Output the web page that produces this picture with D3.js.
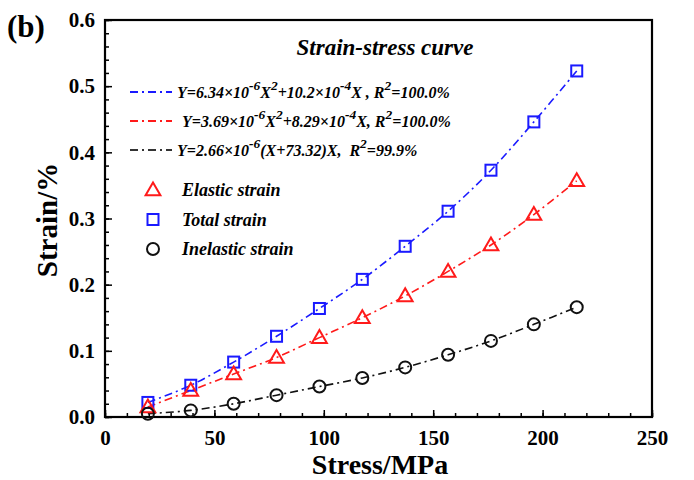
<!DOCTYPE html>
<html lang="en">
<head>
<meta charset="utf-8">
<script src="https://cdn.jsdelivr.net/npm/d3@7/dist/d3.min.js"></script>
<style>
body { margin: 0; background: #fff; }
text { font-family: "Liberation Serif", "Times New Roman", serif; font-weight: bold; }
</style>
</head>
<body>
<script>
// data
var stress = [19.6, 39.2, 58.8, 78.4, 98, 117.6, 137.2, 156.8, 176.4, 196, 215.6];
var totalStrain = [0.022, 0.048, 0.083, 0.122, 0.164, 0.208, 0.258, 0.311, 0.373, 0.446, 0.523];
var elasticStrain = [0.015, 0.040, 0.065, 0.090, 0.120, 0.150, 0.183, 0.220, 0.260, 0.306, 0.357];
var inelasticStrain = [0.005, 0.010, 0.020, 0.033, 0.046, 0.059, 0.075, 0.094, 0.115, 0.140, 0.166];
var xTicks = [0, 50, 100, 150, 200, 250];
var yTicks = [0.0, 0.1, 0.2, 0.3, 0.4, 0.5, 0.6];

var w = 694, h = 480;
var plotL = 105, plotR = 652, plotT = 20, plotB = 417;

var svg = d3.select("body").append("svg")
  .attr("width", w).attr("height", h);

var x = d3.scaleLinear().domain([0, 250]).range([plotL, plotR]);
var y = d3.scaleLinear().domain([0, 0.6]).range([plotB, plotT]);

// minor ticks
svg.append("g")
  .attr("transform", "translate(0," + plotB + ")")
  .call(d3.axisBottom(x).tickValues(d3.range(0, 251, 10)).tickSize(-4).tickFormat(""))
  .call(function(g) { g.select(".domain").remove(); })
  .selectAll("line").attr("stroke-width", 1.5);
svg.append("g")
  .attr("transform", "translate(" + plotL + ",0)")
  .call(d3.axisLeft(y).tickValues(d3.range(0, 0.61, 0.02)).tickSize(-4).tickFormat(""))
  .call(function(g) { g.select(".domain").remove(); })
  .selectAll("line").attr("stroke-width", 1.5);

// major ticks and labels
var xAxis = svg.append("g")
  .attr("transform", "translate(0," + plotB + ")")
  .call(d3.axisBottom(x).tickValues(xTicks).tickSize(-7).tickPadding(13).tickFormat(d3.format("d")));
xAxis.select(".domain").remove();
xAxis.selectAll("line").attr("stroke-width", 1.5);
xAxis.selectAll("text").style("font-size", "21px").attr("fill", "#000");

var yAxis = svg.append("g")
  .attr("transform", "translate(" + plotL + ",0)")
  .call(d3.axisLeft(y).tickValues(yTicks).tickSize(-7).tickPadding(10).tickFormat(d3.format(".1f")));
yAxis.select(".domain").remove();
yAxis.selectAll("line").attr("stroke-width", 1.5);
yAxis.selectAll("text").style("font-size", "21px").attr("fill", "#000");

// frame
svg.append("rect")
  .attr("x", plotL).attr("y", plotT)
  .attr("width", plotR - plotL).attr("height", plotB - plotT)
  .attr("fill", "none").attr("stroke", "#000").attr("stroke-width", 2.2);

// axis titles
svg.append("text")
  .attr("x", 380).attr("y", 474)
  .attr("text-anchor", "middle")
  .style("font-size", "28px")
  .text("Stress/MPa");
svg.append("text")
  .attr("transform", "translate(57,220) rotate(-90)")
  .attr("text-anchor", "middle")
  .style("font-size", "29px")
  .text("Strain/%");
svg.append("text")
  .attr("x", 7).attr("y", 37)
  .style("font-size", "31px")
  .text("(b)");

// series
var series = [
  { name: "Total strain", values: totalStrain, color: "#1a1aff", shape: "square" },
  { name: "Elastic strain", values: elasticStrain, color: "#ff1a1a", shape: "triangle" },
  { name: "Inelastic strain", values: inelasticStrain, color: "#111", shape: "circle" }
];

var dash = "8,4,2,4";
var line = d3.line()
  .x(function(d) { return x(d[0]); })
  .y(function(d) { return y(d[1]); })
  .curve(d3.curveCatmullRom);

series.forEach(function(s) {
  var pts = stress.map(function(v, i) { return [v, s.values[i]]; });
  svg.append("path")
    .datum(pts)
    .attr("d", line)
    .attr("fill", "none")
    .attr("stroke", s.color)
    .attr("stroke-width", 1.6)
    .attr("stroke-dasharray", dash);
});

function drawMarker(g, shape, color, cx, cy) {
  if (shape == "square") {
    g.append("rect")
      .attr("x", cx - 5.5).attr("y", cy - 5.5)
      .attr("width", 11).attr("height", 11)
      .attr("fill", "none").attr("stroke", color).attr("stroke-width", 2);
  } else if (shape == "triangle") {
    g.append("path")
      .attr("d", d3.symbol().type(d3.symbolTriangle).size(95)())
      .attr("transform", "translate(" + cx + "," + (cy + 1) + ")")
      .attr("fill", "none").attr("stroke", color).attr("stroke-width", 2);
  } else {
    g.append("circle")
      .attr("cx", cx).attr("cy", cy).attr("r", 6)
      .attr("fill", "none").attr("stroke", color).attr("stroke-width", 2);
  }
}

series.forEach(function(s) {
  var g = svg.append("g");
  stress.forEach(function(v, i) {
    drawMarker(g, s.shape, s.color, x(v), y(s.values[i]));
  });
});

// legend
svg.append("text")
  .attr("x", 385).attr("y", 55)
  .attr("text-anchor", "middle")
  .style("font-size", "23px")
  .style("font-style", "italic")
  .text("Strain-stress curve");

var fitText = [
  [["Y=6.34\u00d710", 0], ["-6", 1], ["X", 0], ["2", 1], ["+10.2\u00d710", 0], ["-4", 1], ["X , R", 0], ["2", 1], ["=100.0%", 0]],
  [["Y=3.69\u00d710", 0], ["-6", 1], ["X", 0], ["2", 1], ["+8.29\u00d710", 0], ["-4", 1], ["X, R", 0], ["2", 1], ["=100.0%", 0]],
  [["Y=2.66\u00d710", 0], ["-6", 1], ["(X+73.32)X,  R", 0], ["2", 1], ["=99.9%", 0]]
];
var fitColors = ["#1a1aff", "#ff1a1a", "#333"];
var fitX = [177, 182, 177];

fitText.forEach(function(parts, i) {
  var ly = 92 + i * 29;
  svg.append("line")
    .attr("x1", 130).attr("x2", 172)
    .attr("y1", ly).attr("y2", ly)
    .attr("stroke", fitColors[i]).attr("stroke-width", 1.8)
    .attr("stroke-dasharray", dash);
  var t = svg.append("text")
    .attr("x", fitX[i]).attr("y", ly + 6)
    .style("font-size", "16px")
    .style("font-style", "italic")
    .style("white-space", "pre");
  var up = false;
  parts.forEach(function(p) {
    var sp = t.append("tspan").text(p[0]);
    if (p[1] && !up) { sp.attr("dy", -8).style("font-size", "13.5px"); up = true; }
    else if (p[1]) { sp.style("font-size", "13.5px"); }
    else if (up) { sp.attr("dy", 8); up = false; }
  });
});

var markerLegend = [series[1], series[0], series[2]];
markerLegend.forEach(function(s, i) {
  var ly = 190 + i * 29.5;
  drawMarker(svg.append("g"), s.shape, s.color, 153, ly);
  svg.append("text")
    .attr("x", 182).attr("y", ly + 6)
    .style("font-size", "18px")
    .style("font-style", "italic")
    .text(s.name);
});
</script>
</body>
</html>
